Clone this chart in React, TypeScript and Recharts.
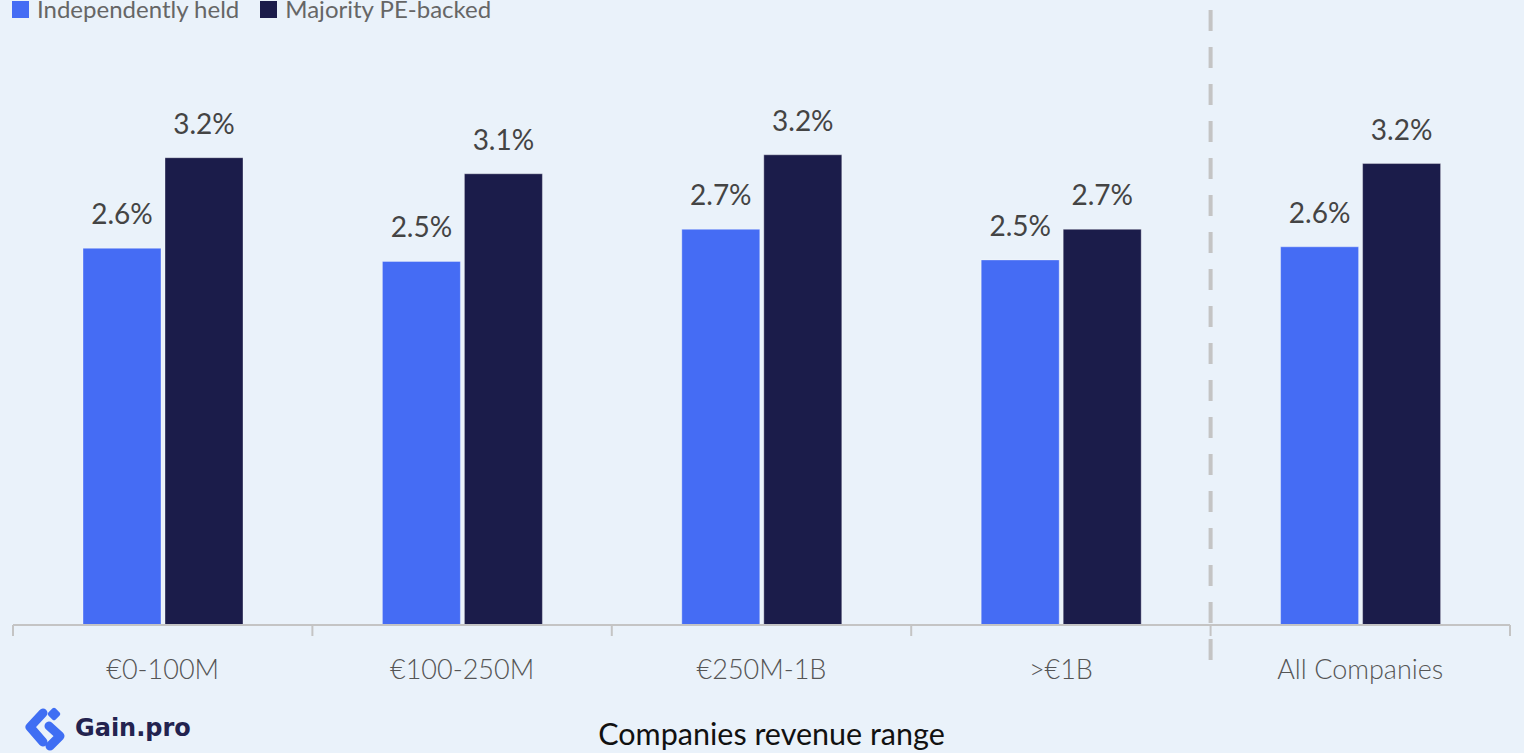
import { Bar, BarChart, LabelList, ReferenceLine, XAxis, YAxis } from 'recharts';

const categories = ['€0-100M', '€100-250M', '€250M-1B', '>€1B', 'All Companies'];
const independentlyHeld = [2.58, 2.49, 2.71, 2.5, 2.59];
const majorityPeBacked = [3.2, 3.09, 3.22, 2.71, 3.16];
const edgeTicks = [0, 1, 2, 3, 4, 5];

const series = [
	{ key: 'independent', name: 'Independently held', color: '#456cf4' },
	{ key: 'pe', name: 'Majority PE-backed', color: '#1b1c4a' },
];

const data = categories.map((label, i) => ({
	label,
	independent: independentlyHeld[i],
	pe: majorityPeBacked[i],
}));

const FONT = 'Lato, "Open Sans", sans-serif';

function Logo() {
	return (
		<div style={{ position: 'absolute', left: 22, top: 705, display: 'flex', alignItems: 'center' }}>
			<svg width={46} height={46} viewBox="0 0 46 46">
				<g fill="none" stroke="#3f6ef3" strokeWidth={9} strokeLinejoin="round" strokeLinecap="round">
					<polyline points="21,8 8,22 21,37" />
					<polyline points="27,21 38,31 28,41" />
				</g>
				<rect x={27} y={4} width={10} height={10} rx={2} fill="#3f6ef3" transform="rotate(45 32 9)" />
			</svg>
			<span
				style={{
					marginLeft: 7,
					fontFamily: '"DejaVu Sans", sans-serif',
					fontWeight: 700,
					fontSize: 24,
					color: '#23234f',
				}}
			>
				Gain.pro
			</span>
		</div>
	);
}

function Legend() {
	return (
		<div
			style={{
				position: 'absolute',
				left: 12,
				top: -3,
				display: 'flex',
				alignItems: 'flex-end',
				fontFamily: FONT,
				fontSize: 24,
				color: '#666',
				lineHeight: '24px',
			}}
		>
			{series.map((s) => (
				<div key={s.key} style={{ display: 'flex', alignItems: 'center', marginRight: 21 }}>
					<span style={{ width: 17, height: 17, background: s.color, display: 'inline-block', marginRight: 8 }} />
					<span>{s.name}</span>
				</div>
			))}
		</div>
	);
}

export default function App() {
	return (
		<div
			style={{
				position: 'absolute',
				left: 0,
				top: 0,
				width: 1524,
				height: 753,
				background: '#eaf2fa',
				overflow: 'hidden',
				fontFamily: FONT,
			}}
		>
			<BarChart
				width={1524}
				height={753}
				data={data}
				margin={{ top: 0, right: 14, bottom: 0, left: 13 }}
				barSize={78}
				barGap={4}
			>
				<XAxis
					xAxisId="edges"
					type="number"
					dataKey="edge"
					domain={[0, 5]}
					ticks={edgeTicks}
					interval={0}
					allowDataOverflow
					tick={() => <g />}
					tickSize={11}
					height={11}
					axisLine={{ stroke: '#c4c4c4', strokeWidth: 2 }}
					tickLine={{ stroke: '#c4c4c4', strokeWidth: 2 }}
				/>
				<XAxis
					xAxisId="zcat"
					dataKey="label"
					height={117}
					axisLine={false}
					tickLine={false}
					tickSize={0}
					tickMargin={24}
					interval={0}
					tick={{ fill: '#555', fontSize: 27, fontFamily: FONT, fontWeight: 300 }}
					label={{
						value: 'Companies revenue range',
						position: 'insideBottom',
						offset: 8,
						dx: 10,
						fill: '#111',
						fontSize: 30.5,
						fontFamily: FONT,
					}}
				/>
				<YAxis hide domain={[0, 4.28]} allowDataOverflow />
				<ReferenceLine
					xAxisId="edges"
					segment={[
						{ x: 4, y: -0.24 },
						{ x: 4, y: 4.28 },
					]}
					stroke="#c4c4c4"
					strokeWidth={4}
					strokeDasharray="21 16"
					ifOverflow="visible"
				/>
				{series.map((s) => (
					<Bar
						key={s.key}
						xAxisId="zcat"
						dataKey={s.key}
						name={s.name}
						fill={s.color}
						stroke="#ffffff"
						strokeOpacity={0.35}
						strokeWidth={1}
						isAnimationActive={false}
					>
						<LabelList
							dataKey={s.key}
							position="top"
							offset={24}
							fill="#444"
							fontSize={28}
							fontFamily={FONT}
							formatter={(v: number) => `${v.toFixed(1)}%`}
						/>
					</Bar>
				))}
			</BarChart>
			<Legend />
			<Logo />
		</div>
	);
}
